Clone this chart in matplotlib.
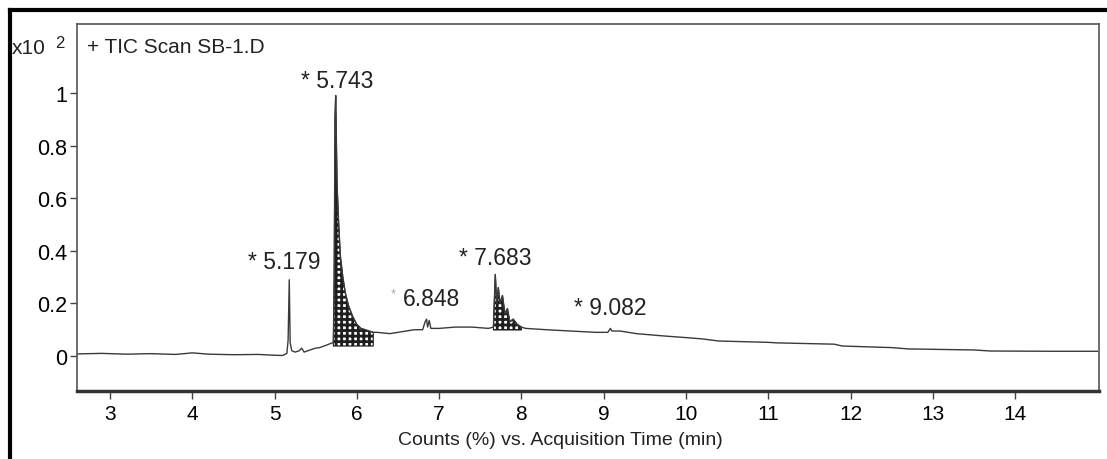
import numpy as np
import matplotlib.pyplot as plt
from matplotlib.lines import Line2D

plt.rcParams['font.family'] = ['Liberation Sans', 'DejaVu Sans']
plt.rcParams['hatch.linewidth'] = 2.0

# TIC trace read point by point (time in min, counts in x10^2 %)
time = [2.6, 2.9, 3.2, 3.5, 3.8, 4.0, 4.2, 4.5, 4.8, 5.0, 5.1, 5.15, 5.165,
        5.179, 5.19, 5.21, 5.25, 5.3, 5.33, 5.36, 5.45, 5.5, 5.55, 5.62, 5.66,
        5.70, 5.715, 5.725, 5.735, 5.743, 5.75, 5.76, 5.78, 5.80, 5.83, 5.86,
        5.90, 5.95, 6.00, 6.05, 6.10, 6.15, 6.20, 6.25, 6.40, 6.50, 6.60, 6.70,
        6.80, 6.83, 6.848, 6.86, 6.88, 6.90, 7.00, 7.20, 7.40, 7.60, 7.66,
        7.683, 7.70, 7.72, 7.74, 7.77, 7.80, 7.83, 7.86, 7.90, 7.95, 8.00,
        8.05, 8.30, 8.60, 8.90, 9.05, 9.082, 9.10, 9.20, 9.40, 9.70, 10.0,
        10.2, 10.4, 11.0, 11.1, 11.8, 11.9, 12.5, 12.7, 13.5, 13.7, 14.5, 15.0]
counts = [0.008, 0.010, 0.007, 0.009, 0.006, 0.012, 0.007, 0.005, 0.006,
          0.003, 0.002, 0.010, 0.060, 0.290, 0.050, 0.020, 0.015, 0.020, 0.030,
          0.015, 0.025, 0.030, 0.032, 0.040, 0.045, 0.050, 0.050, 0.300, 0.900,
          0.990, 0.850, 0.650, 0.500, 0.380, 0.300, 0.240, 0.190, 0.150, 0.120,
          0.105, 0.100, 0.095, 0.090, 0.090, 0.085, 0.090, 0.095, 0.100, 0.100,
          0.130, 0.140, 0.110, 0.135, 0.105, 0.105, 0.110, 0.110, 0.105, 0.110,
          0.310, 0.200, 0.260, 0.200, 0.230, 0.160, 0.180, 0.130, 0.140, 0.120,
          0.110, 0.105, 0.100, 0.095, 0.090, 0.090, 0.105, 0.095, 0.095, 0.085,
          0.077, 0.070, 0.065, 0.057, 0.052, 0.050, 0.045, 0.038, 0.032, 0.027,
          0.023, 0.019, 0.018, 0.018]

# integrated peaks: (start, end, floor)
shade_start = [5.715, 7.66]
shade_end = [6.20, 8.02]
shade_floor = [0.038, 0.099]

peak_labels = ['* 5.179', '* 5.743', '6.848', '* 7.683', '* 9.082']
peak_times = [5.179, 5.743, 6.848, 7.683, 9.082]
peak_heights = [0.29, 0.99, 0.14, 0.31, 0.105]

t = np.array(time)
c = np.array(counts)

fig = plt.figure(figsize=(11.07, 4.6), dpi=100)
ax = fig.add_axes([0.0696, 0.1478, 0.9232, 0.7979])

ax.plot(t, c, color='#3a3a3a', lw=1.0)
for s, e, f in zip(shade_start, shade_end, shade_floor):
    m = (t >= s) & (t <= e)
    ax.fill_between(t[m], f, c[m], facecolor='white', edgecolor='#1e1e1e',
                    hatch='+++', linewidth=0.8)

offsets = [(-0.06, 0.025), (0.02, 0.015), (0.06, 0.035), (-0.0, 0.02), (0.0, 0.035)]
for lab, pt, ph, (dx, dy) in zip(peak_labels, peak_times, peak_heights, offsets):
    ax.text(pt + dx, ph + dy, lab, fontsize=16.5, color='#222', ha='center', va='bottom')
ax.text(6.848 - 0.41, 0.14 + 0.085, '*', fontsize=9, color='#aaa', ha='center')

ax.set_xlim(2.6, 15.02)
ax.set_ylim(-0.133, 1.262)
ax.set_xticks(range(3, 15))
ax.set_yticks([0, 0.2, 0.4, 0.6, 0.8, 1])
ax.set_yticklabels(['0', '0.2', '0.4', '0.6', '0.8', '1'])
ax.tick_params(axis='y', labelsize=15.5, length=5, width=1, color='#444', pad=2)
ax.tick_params(axis='x', labelsize=15, length=6, width=1, color='#444', pad=3)
for sp in ['top', 'right', 'left']:
    ax.spines[sp].set_color('#555')
    ax.spines[sp].set_linewidth(1.2)
ax.spines['bottom'].set_color('#333')
ax.spines['bottom'].set_linewidth(2.5)

ax.set_xlabel('Counts (%) vs. Acquisition Time (min)', fontsize=14, color='#222')
ax.xaxis.set_label_coords((560 - 77) / 1022, -0.11)

ax.text(0.01, 0.94, '+ TIC Scan SB-1.D', transform=ax.transAxes, fontsize=15,
        color='#222', va='center')
fig.text(12 / 1107, 1 - 48 / 460, 'x10', fontsize=15, color='#222', va='center')
fig.text(55 / 1107, 1 - 44 / 460, '2', fontsize=12, color='#222', va='center')

# outer border of the printout
fig.add_artist(Line2D([10 / 1107, 10 / 1107], [0, 1 - 11 / 460], color='black', lw=3))
fig.add_artist(Line2D([10 / 1107, 1], [1 - 11 / 460, 1 - 11 / 460], color='black', lw=3))

fig.savefig('out.png', dpi=100)
